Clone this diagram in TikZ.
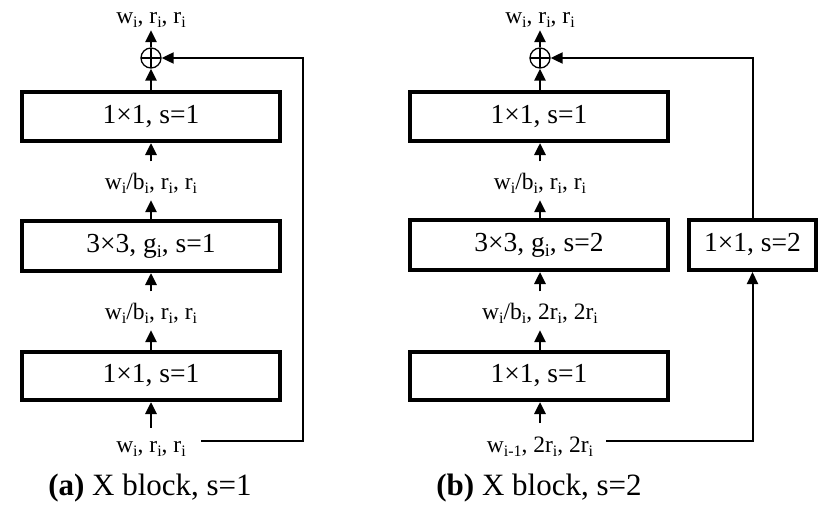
\documentclass[tikz,border=0pt]{standalone}
\usepackage{fontspec}
\setmainfont{Liberation Serif}
\usetikzlibrary{arrows.meta}
\newcommand\lsb[1]{\raisebox{-4pt}{\fontsize{16}{16}\selectfont #1}}
\newcommand\bsb[1]{\raisebox{-5pt}{\fontsize{18}{18}\selectfont #1}}
\begin{document}
\begin{tikzpicture}[x=1pt,y=-1pt,
  blk/.style={draw,line width=4pt,minimum width=258pt,minimum height=49pt,inner sep=0pt,font=\fontsize{27.5}{30}\selectfont},
  lab/.style={font=\fontsize{23.5}{25}\selectfont,inner sep=0pt,anchor=base},
  captxt/.style={font=\fontsize{31}{34}\selectfont,inner sep=0pt,anchor=base},
  arr/.style={-{Triangle[length=12pt,width=11pt]},line width=2.8pt},
  up/.style={arr,shorten <=11pt},
  upin/.style={arr,shorten <=13pt},
  uplab/.style={arr,shorten >=7pt},
  fb/.style={line width=2pt},
  fba/.style={fb,-{Triangle[length=12pt,width=11pt]}},
  oplusnode/.style={circle,draw,line width=1.3pt,minimum size=20pt,inner sep=0pt,
    path picture={\draw[line width=1.3pt] (path picture bounding box.north) -- (path picture bounding box.south)
      (path picture bounding box.west) -- (path picture bounding box.east);}}]
\useasboundingbox (0,0) rectangle (835,511);
% ---- left panel ----
\node[lab] (topL) at (151,24) {w\lsb{i}, r\lsb{i}, r\lsb{i}};
\node[oplusnode] (plusL) at (151,58) {};
\node[blk] (b1L) at (151,116.5) {1×1, s=1};
\node[lab] (lab1L) at (151,189) {w\lsb{i}/b\lsb{i}, r\lsb{i}, r\lsb{i}};
\node[blk,minimum height=50pt] (b2L) at (151,246) {3×3, g\bsb{i}, s=1};
\node[lab] (lab2L) at (151,319) {w\lsb{i}/b\lsb{i}, r\lsb{i}, r\lsb{i}};
\node[blk,minimum height=48pt] (b3L) at (151,376) {1×1, s=1};
\node[lab] (inL) at (151,452) {w\lsb{i}, r\lsb{i}, r\lsb{i}};
\node[captxt] (capL) at (150,495) {\textbf{(a)} X block, s=1};
\coordinate (inLend) at (201,441);
\draw[arr,shorten >=2pt] (plusL.north) -- (topL.south);
\draw[arr] (b1L.north) -- (plusL.south);
\draw[up] (lab1L.north) -- (b1L.south);
\draw[uplab] (b2L.north) -- (lab1L.south);
\draw[up] (lab2L.north) -- (b2L.south);
\draw[uplab] (b3L.north) -- (lab2L.south);
\draw[upin] (inL.north) -- (b3L.south);
\draw[fba] (inLend) -- ++(102,0) |- (plusL.east);
% ---- right panel ----
\node[lab] (topR) at (540,24) {w\lsb{i}, r\lsb{i}, r\lsb{i}};
\node[oplusnode] (plusR) at (540,58) {};
\node[blk] (b1R) at (539,116.5) {1×1, s=1};
\node[lab] (lab1R) at (540,189) {w\lsb{i}/b\lsb{i}, r\lsb{i}, r\lsb{i}};
\node[blk,minimum height=50pt] (b2R) at (539,245) {3×3, g\bsb{i}, s=2};
\node[lab] (lab2R) at (540,319) {w\lsb{i}/b\lsb{i}, 2r\lsb{i}, 2r\lsb{i}};
\node[blk,minimum height=48pt] (b3R) at (539,376) {1×1, s=1};
\node[lab] (inR) at (540,452) {w\lsb{i-1}, 2r\lsb{i}, 2r\lsb{i}};
\node[captxt] (capR) at (539,495) {\textbf{(b)} X block, s=2};
\node[blk,minimum width=127pt,minimum height=50pt] (sideR) at (752.5,245) {1×1, s=2};
\coordinate (inRend) at (606,441);
\draw[arr,shorten >=2pt] (plusR.north) -- (topR.south);
\draw[arr] (b1R.north -| plusR.south) -- (plusR.south);
\draw[up] (lab1R.north) -- (b1R.south -| lab1R.north);
\draw[uplab] (b2R.north -| lab1R.south) -- (lab1R.south);
\draw[up] (lab2R.north) -- (b2R.south -| lab2R.north);
\draw[uplab] (b3R.north -| lab2R.south) -- (lab2R.south);
\draw[upin] (inR.north) -- (b3R.south -| inR.north);
\draw[fba] (inRend) -| (sideR.south);
\draw[fba] (sideR.north) |- (plusR.east);
\end{tikzpicture}
\end{document}
